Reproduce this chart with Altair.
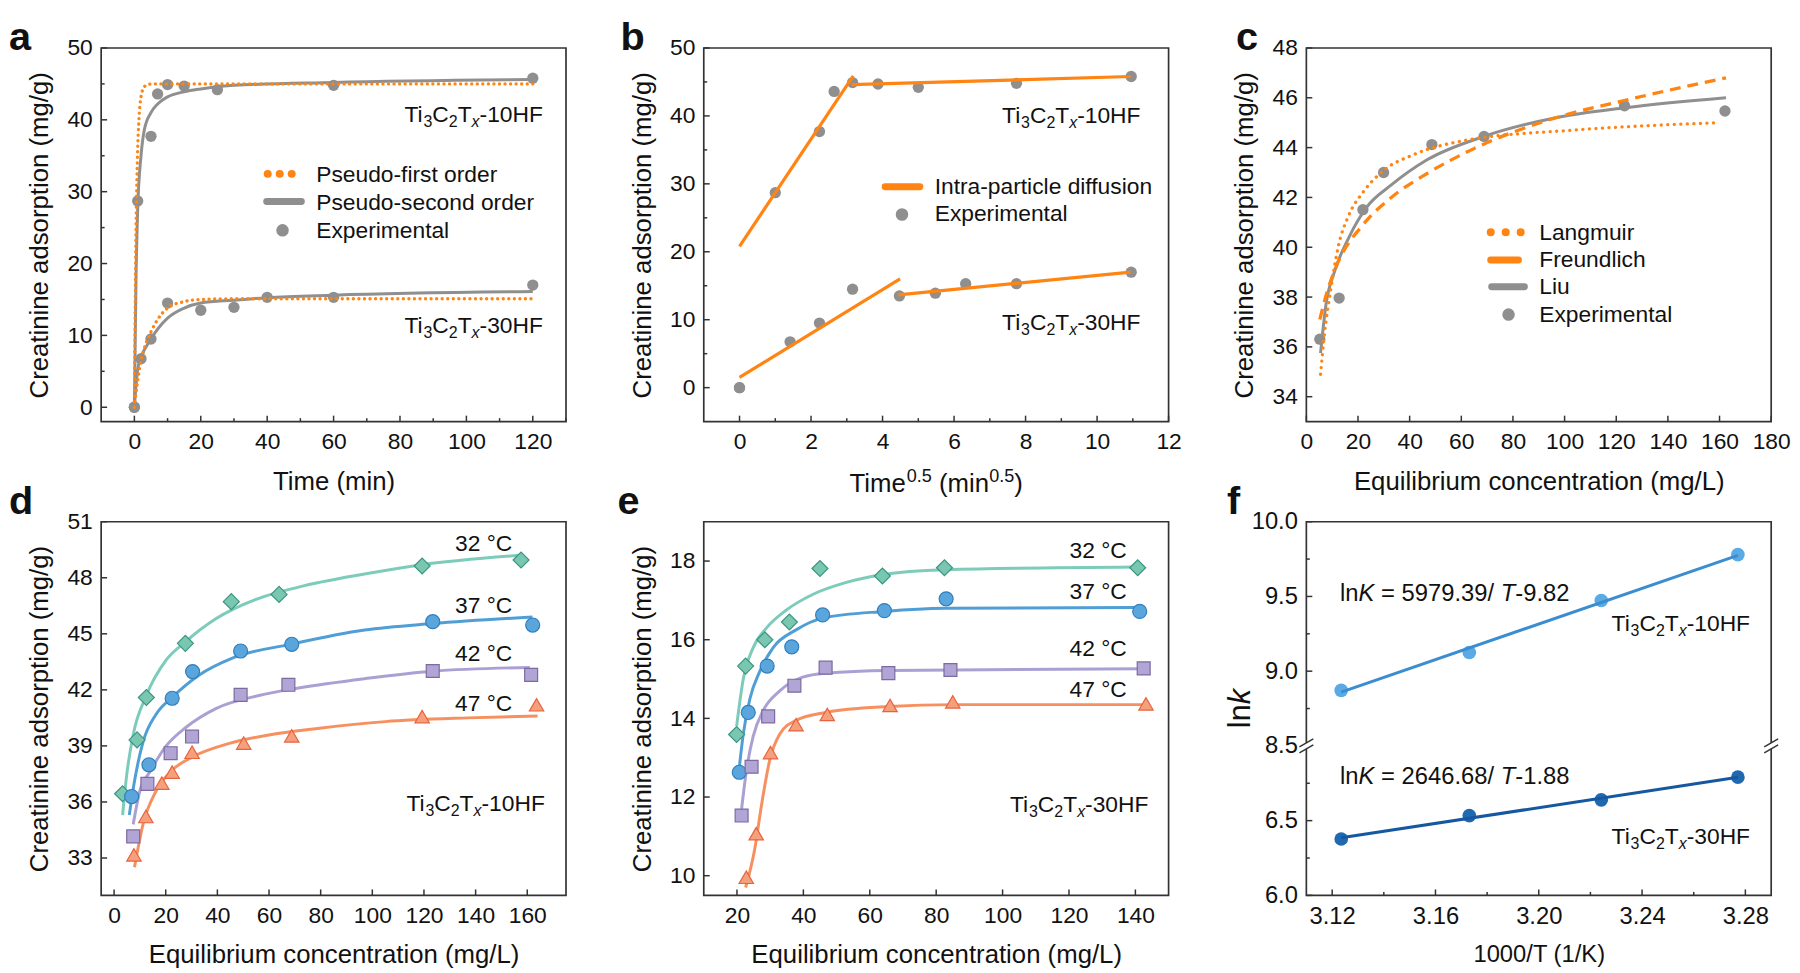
import altair as alt
import pandas as pd

FONT = "Liberation Sans"
INK = "#111111"
FRAME = "#333333"
ORANGE = "#ff8412"
GRAY = "#8f8f8f"
W, H = 469, 377
TICK_FS, TITLE_FS, ANN_FS, LETTER_FS = 23, 26, 23, 40
DUMMY = pd.DataFrame({"k": [0]})

# ---------------- panel a : kinetics ----------------
a_t10 = [0, 1, 5, 7, 10, 15, 25, 60, 120]
a_q10 = [0, 28.7, 37.7, 43.6, 44.9, 44.7, 44.2, 44.8, 45.8]
a_t30 = [0, 2, 5, 10, 20, 30, 40, 60, 120]
a_q30 = [0, 6.75, 9.5, 14.5, 13.5, 13.9, 15.3, 15.3, 17.0]
a_pfo_t10 = [0, 0.25, 0.5, 0.75, 1, 1.5, 2, 3, 4, 6, 120]
a_pfo_q10 = [0, 14, 25, 31.5, 36, 41, 43.2, 44.6, 44.9, 45.0, 45.0]
a_pso_t10 = [0, 0.5, 1, 2, 3, 5, 7, 10, 15, 20, 30, 60, 120]
a_pso_q10 = [0, 18, 27.5, 35, 38.6, 41.0, 42.2, 43.2, 43.9, 44.3, 44.8, 45.2, 45.6]
a_pfo_t30 = [0, 1, 2, 3, 5, 7, 10, 15, 20, 30, 120]
a_pfo_q30 = [0, 3.7, 6.5, 8.2, 10.5, 12.2, 13.8, 14.7, 15.0, 15.1, 15.1]
a_pso_t30 = [0, 1, 2, 5, 10, 15, 20, 30, 40, 60, 120]
a_pso_q30 = [0, 5.3, 6.9, 9.5, 12.4, 13.8, 14.5, 14.9, 15.25, 15.6, 16.1]

# ---------------- panel b : intra-particle diffusion ----------------
b_x10 = [0, 1.0, 2.236, 2.646, 3.162, 3.873, 5.0, 7.746, 10.954]
b_x30 = [0, 1.414, 2.236, 3.162, 4.472, 5.477, 6.325, 7.746, 10.954]
b_fit_x = [0.0, 3.18, 3.13, 10.94, 0.0, 4.49, 4.44, 10.94]
b_fit_y = [20.8, 45.9, 44.6, 45.8, 1.5, 16.0, 13.65, 17.0]
b_fit_s = ["10a", "10a", "10b", "10b", "30a", "30a", "30b", "30b"]

# ---------------- panel c : isotherm models (37 C) ----------------
c_x = [5.2, 12.7, 21.9, 29.9, 48.6, 68.8, 123.2, 162.1]
c_y = [36.31, 37.96, 41.51, 43.0, 44.12, 44.45, 45.68, 45.47]
c_lang_x = [5.5, 6.9, 9.6, 12.3, 16.5, 21.9, 30.1, 41.1, 62.0, 103.0, 159.3]
c_lang_y = [34.9, 36.4, 38.4, 40.0, 41.3, 42.2, 43.1, 43.7, 44.3, 44.7, 45.0]
c_freu_x = [5.2, 8.0, 12.3, 21.9, 32.9, 46.6, 64.7, 96.6, 123.5, 162.5]
c_freu_y = [37.1, 38.2, 39.4, 40.9, 42.0, 42.95, 43.95, 45.2, 45.9, 46.8]
c_liu_x = [5.5, 7.6, 11.0, 16.5, 23.3, 32.9, 46.6, 68.8, 96.6, 123.5, 162.5]
c_liu_y = [35.75, 37.7, 39.05, 40.4, 41.6, 42.5, 43.5, 44.45, 45.2, 45.6, 46.0]

# ---------------- panel d : 10HF isotherms at 4 temperatures ----------------
TEMPS = ["32 °C", "37 °C", "42 °C", "47 °C"]
d_px = [[3.3, 8.9, 12.5, 27.6, 45.4, 63.9, 119.3, 157.6],
        [6.8, 13.5, 22.5, 30.4, 49.0, 68.8, 123.4, 162.1],
        [7.4, 12.9, 21.9, 30.2, 49.0, 67.5, 123.4, 161.5],
        [7.7, 12.3, 18.5, 22.5, 30.2, 50.2, 68.8, 119.3, 163.6]]
d_py = [[36.44, 39.32, 41.59, 44.49, 46.72, 47.11, 48.63, 48.95],
        [36.29, 37.99, 41.55, 42.98, 44.08, 44.44, 45.65, 45.47],
        [34.16, 36.97, 38.61, 39.5, 41.73, 42.27, 43.01, 42.8],
        [33.17, 35.22, 37.01, 37.6, 38.66, 39.15, 39.54, 40.57, 41.2]]
d_cx = [[3.3, 4.9, 7.4, 12.5, 20.2, 27.9, 39.4, 56.1, 71.4, 97.0, 119.3, 157.0],
        [5.9, 7.4, 11.2, 16.3, 22.5, 33.0, 45.8, 68.8, 97.0, 123.4, 162.0],
        [7.4, 10.0, 13.8, 20.2, 27.9, 39.4, 56.1, 71.4, 97.0, 123.4, 161.0],
        [7.9, 11.2, 16.3, 22.5, 30.2, 45.0, 60.4, 79.5, 105.0, 137.0, 164.0]]
d_cy = [[35.3, 37.45, 39.6, 41.7, 43.6, 44.6, 45.8, 46.9, 47.5, 48.2, 48.7, 49.2],
        [35.3, 36.7, 39.2, 40.7, 41.6, 42.8, 43.7, 44.45, 45.2, 45.55, 45.9],
        [34.8, 36.6, 37.6, 39.0, 40.0, 41.0, 41.7, 42.1, 42.6, 43.0, 43.2],
        [32.5, 34.8, 36.6, 37.7, 38.4, 39.15, 39.6, 39.95, 40.3, 40.5, 40.6]]

# ---------------- panel e : 30HF isotherms at 4 temperatures ----------------
e_px = [[19.9, 22.6, 28.4, 35.8, 45.0, 63.8, 82.5, 140.7],
        [20.7, 23.4, 29.1, 36.5, 45.8, 64.4, 83.0, 141.3],
        [21.4, 24.4, 29.4, 37.3, 46.7, 65.6, 84.3, 142.5],
        [22.8, 25.8, 30.1, 37.8, 47.2, 66.1, 85.0, 143.2]]
e_py = [[13.59, 15.33, 16.0, 16.45, 17.81, 17.62, 17.83, 17.83],
        [12.63, 14.15, 15.33, 15.82, 16.63, 16.74, 17.04, 16.72],
        [11.53, 12.77, 14.05, 14.83, 15.29, 15.15, 15.23, 15.27],
        [9.96, 11.07, 13.13, 13.84, 14.1, 14.33, 14.42, 14.37]]
e_cx = [[19.9, 21.9, 24.9, 28.9, 34.8, 42.8, 52.7, 63.6, 82.5, 140.0],
        [20.7, 21.9, 23.9, 26.9, 30.9, 37.8, 45.8, 64.4, 82.5, 140.0],
        [21.4, 22.9, 24.9, 27.9, 32.9, 39.8, 46.7, 65.6, 142.3],
        [22.6, 25.4, 27.4, 29.9, 32.9, 37.8, 46.7, 65.6, 85.5, 143.9]]
e_cy = [[13.8, 15.0, 15.8, 16.3, 16.75, 17.15, 17.45, 17.65, 17.78, 17.85],
        [12.75, 13.6, 14.5, 15.2, 15.8, 16.25, 16.55, 16.72, 16.8, 16.82],
        [11.7, 12.7, 13.55, 14.2, 14.7, 15.05, 15.15, 15.22, 15.26],
        [9.7, 10.7, 11.8, 12.95, 13.6, 13.95, 14.15, 14.3, 14.35, 14.35]]

# ---------------- panel f : van 't Hoff ----------------
f_x = [3.1235, 3.1731, 3.2242, 3.2771]
f_k10 = [8.872, 9.125, 9.473, 9.78]
f_k30 = [6.377, 6.534, 6.639, 6.791]
f_line_x = [3.1235, 3.2771]
f_line10 = [8.86, 9.775]
f_line30 = [6.385, 6.79]

# ---------------- styles ----------------
LINE_C = ["#7dcbbb", "#4f9fd6", "#aba0d3", "#f7905f"]
FILL_C = ["#79c7b0", "#5aa6dc", "#b0a5d5", "#f5a07c"]
EDGE_C = ["#3a9680", "#2f7fbf", "#7d6aa0", "#e8623d"]
SHAPES = ["diamond", "circle", "square", "triangle-up"]
SIZES = [260, 200, 170, 210]

AW = {" ": 278, "-": 333, ".": 278, "/": 278, "=": 584, "°": 400, "(": 333, ")": 333,
      "C": 722, "F": 611, "H": 722, "K": 667, "T": 611, "i": 222, "l": 222, "n": 556,
      "x": 500, "k": 500, "m": 833, "e": 556}


def tw(s, fs):
    return sum(AW.get(ch, 556) for ch in s) * fs / 1000.0


def sc(lo, hi):
    return alt.Scale(domain=[lo, hi], nice=False, zero=False)


def xax(values, title, fmt="d", fs=TICK_FS, tfs=TITLE_FS, ty=68):
    return alt.Axis(values=values, title=title, format=fmt, domain=False, ticks=False, tickSize=0,
                    grid=False, labelFont=FONT, labelFontSize=fs, labelColor=INK, labelPadding=9,
                    labelFlush=False, labelOverlap=False, titleFont=FONT, titleFontSize=tfs,
                    titleFontWeight="normal", titleColor=INK, titleY=ty, titleBaseline="alphabetic")


def yax(values, title, fmt="d", expr=None, fs=TICK_FS):
    kw = dict(values=values, title=title, format=fmt, domain=False, ticks=False, tickSize=0,
              grid=False, labelFont=FONT, labelFontSize=fs, labelColor=INK, labelPadding=9,
              labelFlush=False, labelOverlap=False, titleFont=FONT, titleFontSize=TITLE_FS,
              titleFontWeight="normal", titleColor=INK, titleX=-54, titleY=H / 2, titleAngle=270,
              titleAlign="center", titleBaseline="alphabetic")
    if expr:
        kw["labelExpr"] = expr
    return alt.Axis(**kw)


def txt(text, x, y, fs, style="normal", weight="normal", angle=0, color=INK):
    return alt.Chart(DUMMY).mark_text(text=text, font=FONT, fontSize=fs, fontStyle=style,
                                      fontWeight=weight, angle=angle, align="left",
                                      baseline="alphabetic", color=color).encode(
        x=alt.value(x), y=alt.value(y))


def rich(segs, x, y, fs, angle=0):
    """Lay out text segments (normal / italic / sub / sup) side by side."""
    out, adv = [], 0.0
    for text, kind in segs:
        small = kind in ("sub", "subi", "sup")
        f = fs * (0.7 if small else 1.0)
        dy = 0.22 * fs if kind in ("sub", "subi") else (-0.4 * fs if kind == "sup" else 0.0)
        style = "italic" if kind in ("i", "subi") else "normal"
        lead = len(text) - len(text.lstrip(" "))
        core = text.strip(" ")
        adv += tw(" " * lead, f)
        if core:
            if angle == 0:
                out.append(txt(core, x + adv, y + dy, f, style))
            else:
                out.append(txt(core, x + dy, y - adv, f, style, angle=270))
        adv += tw(text.lstrip(" "), f)
    return out


def rich_width(segs, fs):
    return sum(tw(t, fs * (0.7 if k in ("sub", "subi", "sup") else 1.0)) for t, k in segs)


def ti(suffix):
    return [("Ti", "n"), ("3", "sub"), ("C", "n"), ("2", "sub"), ("T", "n"), ("x", "subi"), (suffix, "n")]


def ticks(xs_, ys_, XA, YA, xmaj, ymaj, xmin=(), ymin=()):
    out = []
    for vals, L in ((xmaj, 6), (xmin, 3.5)):
        if len(vals):
            out.append(alt.Chart(pd.DataFrame({"v": list(vals)})).mark_rule(
                color=FRAME, strokeWidth=1.5).encode(
                x=alt.X("v:Q", scale=xs_, axis=XA), y=alt.value(H), y2=alt.value(H - L)))
    for vals, L in ((ymaj, 6), (ymin, 3.5)):
        if len(vals):
            out.append(alt.Chart(pd.DataFrame({"v": list(vals)})).mark_rule(
                color=FRAME, strokeWidth=1.5).encode(
                y=alt.Y("v:Q", scale=ys_, axis=YA), x=alt.value(0), x2=alt.value(L)))
    return out


def letter(ch, x, y):
    return txt(ch, x, y, LETTER_FS, weight="bold")


def hline(x1, x2, y, color, width, dash=None):
    kw = dict(color=color, strokeWidth=width, strokeCap="round")
    if dash:
        kw["strokeDash"] = dash
    return alt.Chart(DUMMY).mark_rule(**kw).encode(x=alt.value(x1), x2=alt.value(x2), y=alt.value(y))


def dot(x, y, color, size=150):
    return alt.Chart(DUMMY).mark_point(shape="circle", filled=True, size=size, color=color,
                                       opacity=1).encode(x=alt.value(x), y=alt.value(y))


YTITLE = "Creatinine adsorption (mg/g)"
XEQ = "Equilibrium concentration (mg/L)"
LY = 2      # top-row letter baseline relative to plot top
LX = -93    # left-column letter x

# ================= panel a =================
xA, yA = sc(-10, 130), sc(-2, 50)
XA = xax(list(range(0, 121, 20)), "Time (min)")
YA = yax(list(range(0, 51, 10)), YTITLE)
pts_a = pd.DataFrame({"t": a_t10 + a_t30, "q": a_q10 + a_q30})
pfo_a = pd.DataFrame({"t": a_pfo_t10 + a_pfo_t30, "q": a_pfo_q10 + a_pfo_q30,
                      "s": ["10"] * len(a_pfo_t10) + ["30"] * len(a_pfo_t30)})
pso_a = pd.DataFrame({"t": a_pso_t10 + a_pso_t30, "q": a_pso_q10 + a_pso_q30,
                      "s": ["10"] * len(a_pso_t10) + ["30"] * len(a_pso_t30)})
la = [
    alt.Chart(pts_a).mark_circle(size=130, color=GRAY, opacity=1).encode(
        x=alt.X("t:Q", scale=xA, axis=XA), y=alt.Y("q:Q", scale=yA, axis=YA)),
    alt.Chart(pso_a).mark_line(color=GRAY, strokeWidth=3, interpolate="monotone").encode(
        x=alt.X("t:Q", scale=xA, axis=XA), y=alt.Y("q:Q", scale=yA, axis=YA), detail="s:N"),
    alt.Chart(pfo_a).mark_line(color=ORANGE, strokeWidth=3.3, strokeDash=[0.1, 5.5], strokeCap="round",
                               interpolate="monotone").encode(
        x=alt.X("t:Q", scale=xA, axis=XA), y=alt.Y("q:Q", scale=yA, axis=YA), detail="s:N"),
]
la += ticks(xA, yA, XA, YA, list(range(0, 121, 20)), list(range(0, 51, 10)),
            list(range(10, 131, 20)), list(range(5, 46, 10)))
la += [hline(168, 193, 127, ORANGE, 8, [0.1, 12]), hline(167, 202, 155, GRAY, 7), dot(183, 184, GRAY, 160),
       txt("Pseudo-first order", 217, 135, ANN_FS), txt("Pseudo-second order", 217, 163, ANN_FS),
       txt("Experimental", 217, 192, ANN_FS)]
la += rich(ti("-10HF"), 306, 75, ANN_FS) + rich(ti("-30HF"), 306, 288, ANN_FS)
la += [letter("a", LX, LY),
       # invisible guard so the letters' full font box stays inside the page
       alt.Chart(DUMMY).mark_rule(opacity=0, strokeOpacity=0).encode(
           x=alt.value(-60), x2=alt.value(-50), y=alt.value(LY - 0.92 * LETTER_FS))]
pa = alt.layer(*la).properties(width=W, height=H)

# ================= panel b =================
xB, yB = sc(-1, 12), sc(-5, 50)
XB = xax(list(range(0, 13, 2)), None)
YB = yax(list(range(0, 51, 10)), YTITLE)
pts_b = pd.DataFrame({"x": b_x10 + b_x30, "q": a_q10 + a_q30})
fit_b = pd.DataFrame({"x": b_fit_x, "q": b_fit_y, "s": b_fit_s})
lb = [
    alt.Chart(pts_b).mark_circle(size=130, color=GRAY, opacity=1).encode(
        x=alt.X("x:Q", scale=xB, axis=XB), y=alt.Y("q:Q", scale=yB, axis=YB)),
    alt.Chart(fit_b).mark_line(color=ORANGE, strokeWidth=3.2).encode(
        x=alt.X("x:Q", scale=xB, axis=XB), y=alt.Y("q:Q", scale=yB, axis=YB), detail="s:N"),
]
lb += ticks(xB, yB, XB, YB, list(range(0, 13, 2)), list(range(0, 51, 10)),
            list(range(1, 12, 2)), list(range(5, 46, 10)))
lb += [hline(183, 218, 140, ORANGE, 7), dot(200, 168, GRAY, 160),
       txt("Intra-particle diffusion", 233, 147, ANN_FS), txt("Experimental", 233, 175, ANN_FS)]
lb += rich(ti("-10HF"), 301, 76, ANN_FS) + rich(ti("-30HF"), 301, 285, ANN_FS)
bt = [("Time", "n"), ("0.5", "sup"), (" (min", "n"), ("0.5", "sup"), (")", "n")]
lb += rich(bt, W / 2 - rich_width(bt, TITLE_FS) / 2, H + 71, TITLE_FS)
lb += [letter("b", -84, LY)]
pb = alt.layer(*lb).properties(width=W, height=H)

# ================= panel c =================
xC, yC = sc(0, 180), sc(33, 48)
XC = xax(list(range(0, 181, 20)), XEQ)
YC = yax(list(range(34, 49, 2)), YTITLE)
pts_c = pd.DataFrame({"x": c_x, "y": c_y})
lang = pd.DataFrame({"x": c_lang_x, "y": c_lang_y})
freu = pd.DataFrame({"x": c_freu_x, "y": c_freu_y})
liu = pd.DataFrame({"x": c_liu_x, "y": c_liu_y})
lc = [
    alt.Chart(pts_c).mark_circle(size=130, color=GRAY, opacity=1).encode(
        x=alt.X("x:Q", scale=xC, axis=XC), y=alt.Y("y:Q", scale=yC, axis=YC)),
    alt.Chart(liu).mark_line(color=GRAY, strokeWidth=3, interpolate="monotone").encode(
        x=alt.X("x:Q", scale=xC, axis=XC), y=alt.Y("y:Q", scale=yC, axis=YC)),
    alt.Chart(freu).mark_line(color=ORANGE, strokeWidth=3.3, strokeDash=[11, 7],
                              interpolate="monotone").encode(
        x=alt.X("x:Q", scale=xC, axis=XC), y=alt.Y("y:Q", scale=yC, axis=YC)),
    alt.Chart(lang).mark_line(color=ORANGE, strokeWidth=3.3, strokeDash=[0.1, 6.5], strokeCap="round",
                              interpolate="monotone").encode(
        x=alt.X("x:Q", scale=xC, axis=XC), y=alt.Y("y:Q", scale=yC, axis=YC)),
]
lc += ticks(xC, yC, XC, YC, list(range(0, 181, 20)), list(range(34, 49, 2)))
lc += [hline(186, 217, 186, ORANGE, 8, [0.1, 15]), hline(186, 214, 214, ORANGE, 7, None),
       hline(187, 220, 241, GRAY, 7), dot(204, 269, GRAY, 160),
       txt("Langmuir", 235, 194, ANN_FS), txt("Freundlich", 235, 221, ANN_FS),
       txt("Liu", 235, 248, ANN_FS), txt("Experimental", 235, 276, ANN_FS)]
lc += [letter("c", -71, LY)]
pc = alt.layer(*lc).properties(width=W, height=H)


# ================= panels d, e =================
def temp_panel(xs_, ys_, xvals, yvals, px, py, cx, cy, lab_x, lab_y, tag, tag_xy, let, let_xy):
    XX = xax(xvals, XEQ)
    YY = yax(yvals, YTITLE)
    layers = []
    for i in range(4):
        df = pd.DataFrame({"x": cx[i], "y": cy[i]})
        layers.append(alt.Chart(df).mark_line(color=LINE_C[i], strokeWidth=3, interpolate="monotone").encode(
            x=alt.X("x:Q", scale=xs_, axis=XX), y=alt.Y("y:Q", scale=ys_, axis=YY)))
    for i in range(4):
        df = pd.DataFrame({"x": px[i], "y": py[i]})
        layers.append(alt.Chart(df).mark_point(shape=SHAPES[i], filled=True, size=SIZES[i], fill=FILL_C[i],
                                               stroke=EDGE_C[i], strokeWidth=1.2, opacity=1).encode(
            x=alt.X("x:Q", scale=xs_, axis=XX), y=alt.Y("y:Q", scale=ys_, axis=YY)))
    layers += ticks(xs_, ys_, XX, YY, xvals, yvals)
    for i in range(4):
        layers.append(txt(TEMPS[i], lab_x, lab_y[i], ANN_FS))
    layers += rich(ti(tag), tag_xy[0], tag_xy[1], ANN_FS)
    layers += [letter(let, let_xy[0], let_xy[1])]
    return alt.layer(*layers).properties(width=W, height=H)


pdd = temp_panel(sc(-5, 175), sc(31, 51), list(range(0, 161, 20)), list(range(33, 52, 3)),
                 d_px, d_py, d_cx, d_cy, 357, [30, 92, 141, 191], "-10HF", (308, 292), "d", (LX, -8))
pe = temp_panel(sc(10, 150), sc(9.5, 19), list(range(20, 141, 20)), list(range(10, 19, 2)),
                e_px, e_py, e_cx, e_cy, 369, [37, 78, 135, 177], "-30HF", (309, 293), "e", (-87, -8))

# ================= panel f =================
xF, yF = sc(3.11, 3.29), sc(6.0, 8.5)
BREAK_EXPR = "datum.v <= 7.25 ? datum.v : datum.v - 1.5"
C10P, C10L, C30P, C30L = "#5aaae4", "#3a8dd0", "#1f69b0", "#1558a0"
p10 = pd.DataFrame({"x": f_x, "v": f_k10})
p30 = pd.DataFrame({"x": f_x, "v": f_k30})
l10 = pd.DataFrame({"x": f_line_x, "v": f_line10})
l30 = pd.DataFrame({"x": f_line_x, "v": f_line30})
f_xt = [3.12, 3.16, 3.20, 3.24, 3.28]
f_yt = [6.0, 6.5, 7.0, 7.5, 8.0, 8.5]
yexpr = "datum.value < 6.9 ? format(datum.value, '.1f') : format(datum.value + 1.5, '.1f')"
XF = xax(f_xt, "1000/T (1/K)", fmt=".2f", fs=24, tfs=24, ty=67)
YF = yax(f_yt, None, fmt=".1f", expr=yexpr, fs=24)
lf = [
    alt.Chart(p10).transform_calculate(yd=BREAK_EXPR).mark_circle(size=190, color=C10P, opacity=1).encode(
        x=alt.X("x:Q", scale=xF, axis=XF), y=alt.Y("yd:Q", scale=yF, axis=YF)),
    alt.Chart(p30).transform_calculate(yd=BREAK_EXPR).mark_circle(size=190, color=C30P, opacity=1).encode(
        x=alt.X("x:Q", scale=xF, axis=XF), y=alt.Y("yd:Q", scale=yF, axis=YF)),
    alt.Chart(l10).transform_calculate(yd=BREAK_EXPR).mark_line(color=C10L, strokeWidth=3).encode(
        x=alt.X("x:Q", scale=xF, axis=XF), y=alt.Y("yd:Q", scale=yF, axis=YF)),
    alt.Chart(l30).transform_calculate(yd=BREAK_EXPR).mark_line(color=C30L, strokeWidth=3).encode(
        x=alt.X("x:Q", scale=xF, axis=XF), y=alt.Y("yd:Q", scale=yF, axis=YF)),
]
lf += ticks(xF, yF, XF, YF, f_xt, [6.0, 6.5, 7.5, 8.0, 8.5], [3.14, 3.18, 3.22, 3.26],
            [6.25, 6.75, 7.25, 7.75, 8.25])
yb = H * (8.5 - 7.0) / 2.5
for bx in (0, W):
    lf.append(alt.Chart(DUMMY).mark_rect(color="white").encode(
        x=alt.value(bx - 4), x2=alt.value(bx + 4), y=alt.value(yb - 3), y2=alt.value(yb + 3)))
    for off in (-3, 3):
        lf.append(alt.Chart(DUMMY).mark_rule(color=FRAME, strokeWidth=1.5).encode(
            x=alt.value(bx - 7), x2=alt.value(bx + 7), y=alt.value(yb + off + 4), y2=alt.value(yb + off - 4)))
eq1 = [("ln", "n"), ("K", "i"), (" = 5979.39/ ", "n"), ("T", "i"), ("-9.82", "n")]
eq2 = [("ln", "n"), ("K", "i"), (" = 2646.68/ ", "n"), ("T", "i"), ("-1.88", "n")]
lf += rich(eq1, 34, 80, 24) + rich(eq2, 34, 265, 24)
lf += rich(ti("-10HF"), 308, 110, ANN_FS) + rich(ti("-30HF"), 308, 325, ANN_FS)
lnk = [("ln", "n"), ("k", "i")]
lf += rich(lnk, -57, H / 2 + rich_width(lnk, 31) / 2, 31, angle=270)
lf += [letter("f", -80, -8)]
pf = alt.layer(*lf).properties(width=W, height=H)

chart = alt.concat(pa, pb, pc, pdd, pe, pf, columns=3, spacing={"row": 101, "column": 139},
                   bounds="flush").properties(
    padding={"left": 0, "top": 0, "right": 0, "bottom": 0}, background="white"
).configure_view(stroke=FRAME, strokeWidth=1.7)

chart.save("out.html", embed_options={"renderer": "svg", "actions": False})
